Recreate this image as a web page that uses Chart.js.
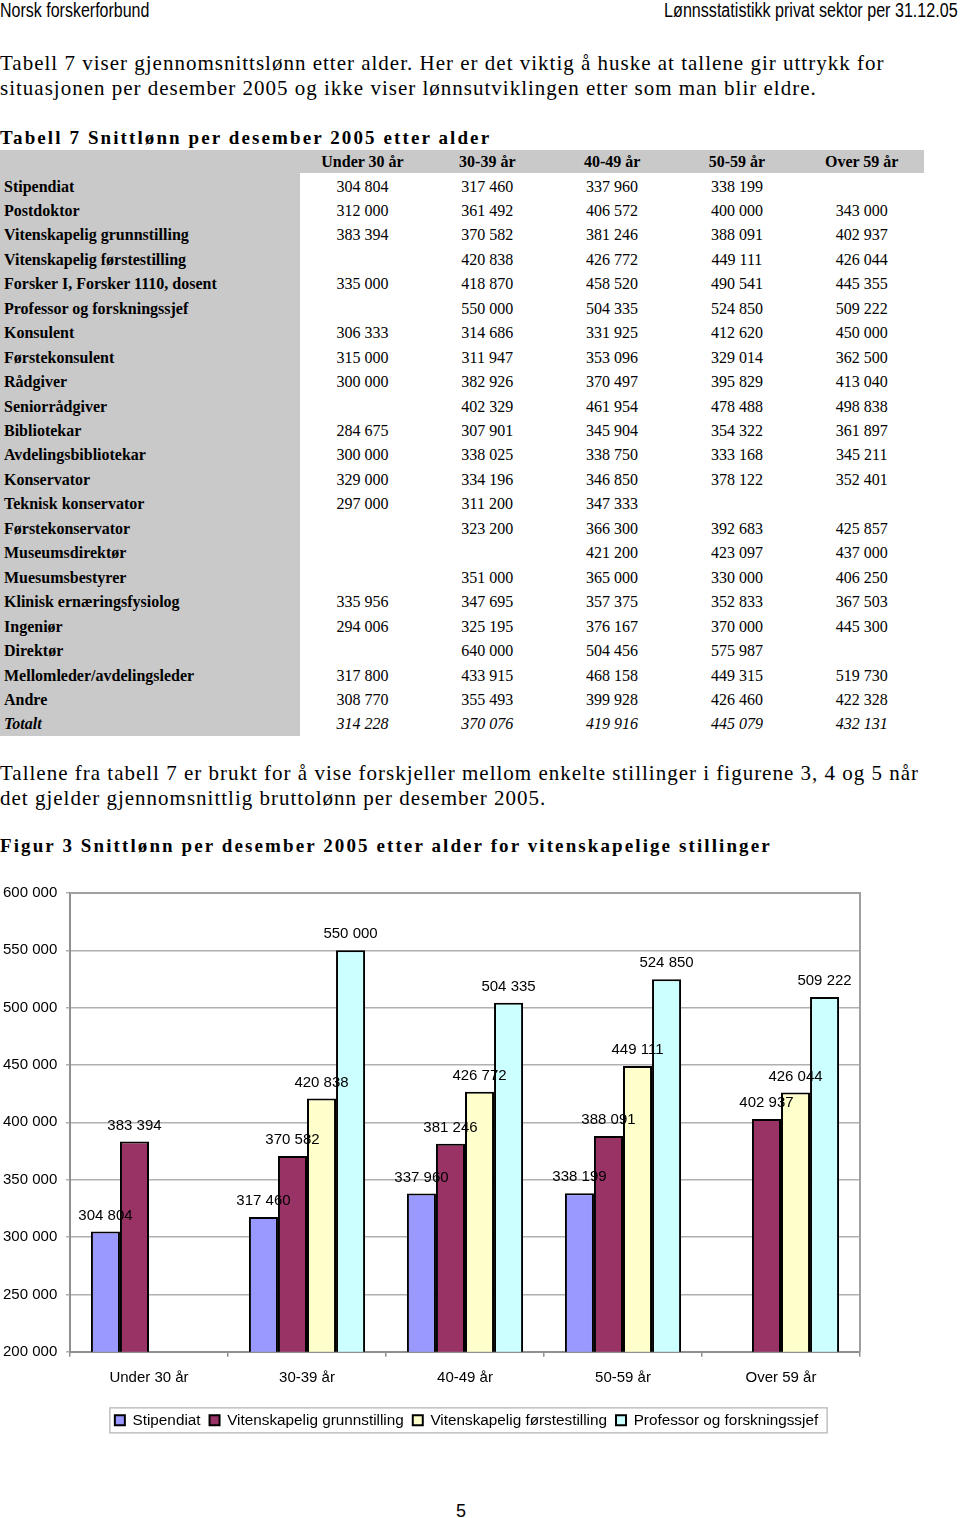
<!DOCTYPE html>
<html>
<head>
<meta charset="utf-8">
<script src="https://cdn.jsdelivr.net/npm/chart.js@4.4.0/dist/chart.umd.min.js"></script>
<style>
body { margin: 0; width: 960px; height: 1518px; position: relative; background: #fff; overflow: hidden; }
.abs { position: absolute; white-space: nowrap; }
.hdr { font-family: "Liberation Sans", Arial, sans-serif; font-size: 20px; line-height: 20px; top: 0; }
.txt { font-family: "Liberation Serif", "Times New Roman", serif; font-size: 21px; line-height: 25px; letter-spacing: 1px; left: 0; }
.ttl { font-family: "Liberation Serif", "Times New Roman", serif; font-weight: bold; font-size: 19px; line-height: 22px; letter-spacing: 2.1px; left: 0; }
.gray { position: absolute; background: #c9c9c9; }
.cell { position: absolute; font-family: "Liberation Serif", "Times New Roman", serif; font-size: 16px; line-height: 24.5px; white-space: nowrap; }
.lab { left: 4px; font-weight: bold; }
.val { text-align: center; width: 125px; }
.head { font-weight: bold; line-height: 23px; }
.tot { font-style: italic; }
</style>
</head>
<body>

<div class="abs hdr" style="left:0;transform:scaleX(0.8);transform-origin:left top;">Norsk forskerforbund</div>
<div class="abs hdr" style="right:2px;transform:scaleX(0.805);transform-origin:right top;">Lønnsstatistikk privat sektor per 31.12.05</div>

<div class="abs txt" style="top:51px;">Tabell 7 viser gjennomsnittslønn etter alder. Her er det viktig å huske at tallene gir uttrykk for<br>situasjonen per desember 2005 og ikke viser lønnsutviklingen etter som man blir eldre.</div>

<div class="abs ttl" style="top:127px;">Tabell 7 Snittlønn per desember 2005 etter alder</div>

<div class="gray" style="left:0;top:150px;width:924px;height:23px;"></div>
<div class="gray" style="left:0;top:173px;width:300px;height:563px;"></div>
<div id="table"></div>

<div class="abs txt" style="top:761px;">Tallene fra tabell 7 er brukt for å vise forskjeller mellom enkelte stillinger i figurene 3, 4 og 5 når<br>det gjelder gjennomsnittlig bruttolønn per desember 2005.</div>

<div class="abs ttl" style="top:835px;">Figur 3 Snittlønn per desember 2005 etter alder for vitenskapelige stillinger</div>

<div style="position:absolute;left:0;top:880px;width:930px;height:560px;">
  <canvas id="fig3"></canvas>
</div>

<div class="abs" style="left:456px;top:1501px;font-family:'Liberation Sans',Arial,sans-serif;font-size:18px;line-height:20px;">5</div>

<script>
// tabell 7
const ageGroups = ["Under 30 år", "30-39 år", "40-49 år", "50-59 år", "Over 59 år"];
const positions = ["Stipendiat", "Postdoktor", "Vitenskapelig grunnstilling", "Vitenskapelig førstestilling",
  "Forsker I, Forsker 1110, dosent", "Professor og forskningssjef", "Konsulent", "Førstekonsulent",
  "Rådgiver", "Seniorrådgiver", "Bibliotekar", "Avdelingsbibliotekar", "Konservator",
  "Teknisk konservator", "Førstekonservator", "Museumsdirektør", "Muesumsbestyrer",
  "Klinisk ernæringsfysiolog", "Ingeniør", "Direktør", "Mellomleder/avdelingsleder", "Andre", "Totalt"];
const salaries = [
  [304804, 317460, 337960, 338199, null],
  [312000, 361492, 406572, 400000, 343000],
  [383394, 370582, 381246, 388091, 402937],
  [null, 420838, 426772, 449111, 426044],
  [335000, 418870, 458520, 490541, 445355],
  [null, 550000, 504335, 524850, 509222],
  [306333, 314686, 331925, 412620, 450000],
  [315000, 311947, 353096, 329014, 362500],
  [300000, 382926, 370497, 395829, 413040],
  [null, 402329, 461954, 478488, 498838],
  [284675, 307901, 345904, 354322, 361897],
  [300000, 338025, 338750, 333168, 345211],
  [329000, 334196, 346850, 378122, 352401],
  [297000, 311200, 347333, null, null],
  [null, 323200, 366300, 392683, 425857],
  [null, null, 421200, 423097, 437000],
  [null, 351000, 365000, 330000, 406250],
  [335956, 347695, 357375, 352833, 367503],
  [294006, 325195, 376167, 370000, 445300],
  [null, 640000, 504456, 575987, null],
  [317800, 433915, 468158, 449315, 519730],
  [308770, 355493, 399928, 426460, 422328],
  [314228, 370076, 419916, 445079, 432131]
];

// figur 3
const series = ["Stipendiat", "Vitenskapelig grunnstilling", "Vitenskapelig førstestilling", "Professor og forskningssjef"];
const stipendiat = [304804, 317460, 337960, 338199, null];
const vitGrunnstilling = [383394, 370582, 381246, 388091, 402937];
const vitForstestilling = [null, 420838, 426772, 449111, 426044];
const professor = [null, 550000, 504335, 524850, 509222];
const colors = ["#9999ff", "#993366", "#ffffcc", "#ccffff"];

const fmt = v => String(v).replace(/\B(?=(\d{3})+(?!\d))/g, " ");

// bygg tabellen
const tbl = document.getElementById("table");
const colLeft = i => 300 + i * 124.8;
let html = "";
ageGroups.forEach((g, i) => {
  html += `<div class="cell val head" style="top:150px;left:${colLeft(i)}px">${g}</div>`;
});
positions.forEach((p, r) => {
  const top = 174.5 + r * 24.45;
  const tot = r === positions.length - 1 ? " tot" : "";
  html += `<div class="cell lab${tot}" style="top:${top}px">${p}</div>`;
  salaries[r].forEach((v, i) => {
    if (v != null) html += `<div class="cell val${tot}" style="top:${top}px;left:${colLeft(i)}px">${fmt(v)}</div>`;
  });
});
tbl.innerHTML = html;

Chart.defaults.font.family = "'Liberation Sans', Arial, sans-serif";
Chart.defaults.font.size = 15;
Chart.defaults.color = "#000";

// ramme rundt plottet (topp og høyre)
const plotFrame = {
  id: "plotFrame",
  beforeDatasetsDraw(chart) {
    const { ctx, chartArea: a } = chart;
    ctx.save();
    ctx.strokeStyle = "#a0a0a0";
    ctx.lineWidth = 2;
    ctx.beginPath();
    ctx.moveTo(a.left, a.top);
    ctx.lineTo(a.right, a.top);
    ctx.lineTo(a.right, a.bottom);
    ctx.stroke();
    ctx.restore();
  }
};

// verdier over søylene
const valueLabels = {
  id: "valueLabels",
  afterDatasetsDraw(chart) {
    const ctx = chart.ctx;
    ctx.save();
    ctx.font = "15px 'Liberation Sans', Arial, sans-serif";
    ctx.fillStyle = "#000";
    ctx.textAlign = "center";
    ctx.textBaseline = "middle";
    chart.data.datasets.forEach((ds, i) => {
      chart.getDatasetMeta(i).data.forEach((bar, j) => {
        const v = ds.data[j];
        if (v == null) return;
        ctx.fillText(fmt(v), bar.x, bar.y - 16);
      });
    });
    ctx.restore();
  }
};

// boks rundt legenden
const legendFrame = {
  id: "legendFrame",
  afterDraw(chart) {
    const lg = chart.legend;
    if (!lg || !lg.legendHitBoxes.length) return;
    const hb = lg.legendHitBoxes;
    const x0 = Math.min(...hb.map(h => h.left)) - 5;
    const x1 = Math.max(...hb.map(h => h.left + h.width)) + 9;
    const cy = hb[0].top + hb[0].height / 2;
    const ctx = chart.ctx;
    ctx.save();
    ctx.strokeStyle = "#c0c0c0";
    ctx.lineWidth = 1.5;
    ctx.strokeRect(x0, cy - 12.5, x1 - x0, 25);
    ctx.restore();
  }
};

new Chart(document.getElementById("fig3"), {
  type: "bar",
  data: {
    labels: ageGroups,
    datasets: [stipendiat, vitGrunnstilling, vitForstestilling, professor].map((d, i) => ({
      label: series[i],
      data: d,
      backgroundColor: colors[i],
      borderColor: "#000",
      borderWidth: 2,
      categoryPercentage: 0.735,
      barPercentage: 1
    }))
  },
  options: {
    responsive: true,
    maintainAspectRatio: false,
    animation: false,
    layout: { padding: { top: 13, left: 3, right: 0, bottom: 2 } },
    scales: {
      x: {
        afterFit(s) { s.height = 52; },
        grid: { drawOnChartArea: false, drawTicks: true, tickLength: 5, color: "#909090", lineWidth: 1.5 },
        border: { display: true, color: "#909090", width: 2 },
        ticks: { padding: 12 }
      },
      y: {
        min: 200000,
        max: 600000,
        afterFit(s) { s.width = 67; },
        grid: { color: "#b0b0b0", lineWidth: 1.5, tickLength: 4 },
        border: { display: true, color: "#909090", width: 2 },
        ticks: { stepSize: 50000, crossAlign: "far", callback: v => fmt(v) }
      },
      // tom akse til høyre, gir plass så plottet slutter ved x=860
      yRight: {
        position: "right",
        afterFit(s) { s.width = 70; },
        grid: { display: false },
        border: { display: false },
        ticks: { display: false }
      }
    },
    plugins: {
      legend: {
        position: "bottom",
        labels: { boxWidth: 10, boxHeight: 10, padding: 9, font: { size: 15.3 } }
      },
      tooltip: { enabled: false }
    }
  },
  plugins: [plotFrame, valueLabels, legendFrame]
});
</script>
</body>
</html>
